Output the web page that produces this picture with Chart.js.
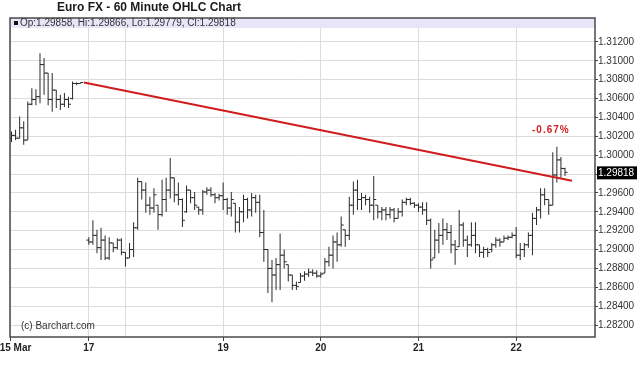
<!DOCTYPE html>
<html>
<head>
<meta charset="utf-8">
<title>Euro FX - 60 Minute OHLC Chart</title>
<script src="https://cdn.jsdelivr.net/npm/chart.js@4.4.1/dist/chart.umd.min.js"></script>
<style>
  html, body { margin: 0; padding: 0; background: #fff; }
</style>
</head>
<body>
<canvas id="ohlcChart" width="640" height="375"></canvas>
<script>
// hourly bars, one slot per hour (slot 18 = weekend gap, no trade)
const opens = [
  1.3018, 1.3021, 1.3018, 1.3029, 1.3016, 1.3054, 1.3059, 1.3062, 1.3096, 1.3087,
  1.3059, 1.3069, 1.3059, 1.3054, 1.3059, 1.3060, 1.3076, 1.3076, null, 1.2910,
  1.2908, 1.2915, 1.2902, 1.2910, 1.2891, 1.2907, 1.2902, 1.2910, 1.2897, 1.2891,
  1.2900, 1.2923, 1.2972, 1.2963, 1.2947, 1.2944, 1.2947, 1.2937, 1.2953, 1.2963,
  1.2976, 1.2958, 1.2953, 1.2940, 1.2963, 1.2955, 1.2945, 1.2942, 1.2961, 1.2963,
  1.2958, 1.2955, 1.2957, 1.2953, 1.2944, 1.2949, 1.2929, 1.2940, 1.2953, 1.2942,
  1.2955, 1.2950, 1.2918, 1.2900, 1.2880, 1.2873, 1.2884, 1.2894, 1.2884, 1.2873,
  1.2862, 1.2865, 1.2872, 1.2874, 1.2876, 1.2875, 1.2872, 1.2875, 1.2887, 1.2894,
  1.2908, 1.2905, 1.2921, 1.2915, 1.2947, 1.2963, 1.2953, 1.2955, 1.2953, 1.2947,
  1.2947, 1.2940, 1.2942, 1.2937, 1.2942, 1.2933, 1.2940, 1.2950, 1.2953, 1.2949,
  1.2947, 1.2945, 1.2942, 1.2931, 1.2891, 1.2910, 1.2915, 1.2921, 1.2918, 1.2905,
  1.2903, 1.2926, 1.2910, 1.2905, 1.2915, 1.2905, 1.2897, 1.2900, 1.2900, 1.2905,
  1.2910, 1.2908, 1.2912, 1.2913, 1.2915, 1.2894, 1.2900, 1.2905, 1.2915, 1.2933,
  1.2942, 1.2958, 1.2953, 1.2947, 1.2979, 1.2995, 1.29858
];
const highs = [
  1.3025, 1.3027, 1.3041, 1.3036, 1.3057, 1.3071, 1.3070, 1.3108, 1.3103, 1.3087,
  1.3087, 1.3069, 1.3064, 1.3066, 1.3062, 1.3078, 1.3077, 1.3077, null, 1.2913,
  1.2931, 1.2921, 1.2923, 1.2915, 1.2913, 1.2907, 1.2912, 1.2912, 1.2897, 1.2907,
  1.2929, 1.2976, 1.2972, 1.2971, 1.2956, 1.2965, 1.2947, 1.2974, 1.2976, 1.2997,
  1.2976, 1.2971, 1.2954, 1.2968, 1.2963, 1.2961, 1.2945, 1.2963, 1.2966, 1.2966,
  1.2960, 1.2959, 1.2971, 1.2955, 1.2961, 1.2949, 1.2945, 1.2958, 1.2955, 1.2960,
  1.2958, 1.2958, 1.2942, 1.2900, 1.2889, 1.2891, 1.2917, 1.2900, 1.2884, 1.2873,
  1.2866, 1.2875, 1.2877, 1.2880, 1.2879, 1.2878, 1.2876, 1.2891, 1.2903, 1.2915,
  1.2918, 1.2935, 1.2921, 1.2956, 1.2972, 1.2974, 1.2960, 1.2958, 1.2956, 1.2978,
  1.2947, 1.2945, 1.2945, 1.2945, 1.2944, 1.2944, 1.2953, 1.2955, 1.2955, 1.2950,
  1.2949, 1.2950, 1.2950, 1.2933, 1.2921, 1.2928, 1.2933, 1.2928, 1.2926, 1.2910,
  1.2942, 1.2929, 1.2915, 1.2929, 1.2929, 1.2905, 1.2903, 1.2902, 1.2907, 1.2913,
  1.2912, 1.2915, 1.2915, 1.2918, 1.2924, 1.2907, 1.2907, 1.2918, 1.2939, 1.2945,
  1.2965, 1.2965, 1.2953, 1.3003, 1.3009, 1.2998, 1.29866
];
const lows = [
  1.3014, 1.3016, 1.3018, 1.3011, 1.3016, 1.3053, 1.3053, 1.3055, 1.3064, 1.3053,
  1.3046, 1.3050, 1.3048, 1.3051, 1.3050, 1.3059, 1.3074, 1.3076, null, 1.2905,
  1.2905, 1.2896, 1.2889, 1.2889, 1.2889, 1.2897, 1.2900, 1.2894, 1.2882, 1.2891,
  1.2892, 1.2921, 1.2953, 1.2939, 1.2937, 1.2939, 1.2921, 1.2935, 1.2940, 1.2954,
  1.2950, 1.2947, 1.2924, 1.2939, 1.2949, 1.2942, 1.2937, 1.2937, 1.2958, 1.2956,
  1.2949, 1.2952, 1.2942, 1.2937, 1.2935, 1.2918, 1.2918, 1.2929, 1.2933, 1.2935,
  1.2939, 1.2913, 1.2887, 1.2854, 1.2844, 1.2857, 1.2857, 1.2880, 1.2866, 1.2857,
  1.2857, 1.2865, 1.2867, 1.2871, 1.2872, 1.2870, 1.2870, 1.2875, 1.2882, 1.2880,
  1.2887, 1.2903, 1.2903, 1.2910, 1.2937, 1.2942, 1.2942, 1.2947, 1.2939, 1.2931,
  1.2933, 1.2931, 1.2931, 1.2933, 1.2929, 1.2933, 1.2935, 1.2947, 1.2947, 1.2944,
  1.2940, 1.2937, 1.2926, 1.2880, 1.2891, 1.2896, 1.2905, 1.2910, 1.2896, 1.2884,
  1.2903, 1.2903, 1.2892, 1.2903, 1.2896, 1.2892, 1.2891, 1.2892, 1.2897, 1.2902,
  1.2903, 1.2908, 1.2910, 1.2912, 1.2891, 1.2889, 1.2892, 1.2902, 1.2894, 1.2926,
  1.2933, 1.2947, 1.2937, 1.2947, 1.2971, 1.2976, 1.29779
];
const closes = [
  1.3021, 1.3018, 1.3029, 1.3016, 1.3054, 1.3059, 1.3062, 1.3096, 1.3087, 1.3059,
  1.3069, 1.3059, 1.3054, 1.3059, 1.3054, 1.3076, 1.3076, 1.3077, null, 1.2908,
  1.2915, 1.2902, 1.2910, 1.2891, 1.2907, 1.2902, 1.2910, 1.2897, 1.2891, 1.2900,
  1.2923, 1.2972, 1.2963, 1.2947, 1.2944, 1.2958, 1.2937, 1.2953, 1.2963, 1.2976,
  1.2958, 1.2953, 1.2931, 1.2963, 1.2955, 1.2947, 1.2942, 1.2961, 1.2963, 1.2958,
  1.2955, 1.2957, 1.2953, 1.2944, 1.2953, 1.2929, 1.2940, 1.2953, 1.2942, 1.2955,
  1.2950, 1.2918, 1.2900, 1.2880, 1.2873, 1.2884, 1.2894, 1.2887, 1.2873, 1.2862,
  1.2861, 1.2872, 1.2874, 1.2876, 1.2875, 1.2872, 1.2874, 1.2887, 1.2894, 1.2908,
  1.2905, 1.2926, 1.2915, 1.2947, 1.2963, 1.2953, 1.2955, 1.2953, 1.2947, 1.2953,
  1.2940, 1.2942, 1.2937, 1.2942, 1.2933, 1.2940, 1.2950, 1.2953, 1.2949, 1.2947,
  1.2945, 1.2942, 1.2931, 1.2889, 1.2910, 1.2915, 1.2921, 1.2918, 1.2905, 1.2900,
  1.2926, 1.2910, 1.2905, 1.2915, 1.2905, 1.2897, 1.2900, 1.2897, 1.2905, 1.2910,
  1.2908, 1.2912, 1.2913, 1.2915, 1.2894, 1.2900, 1.2905, 1.2915, 1.2933, 1.2942,
  1.2958, 1.2953, 1.2947, 1.2979, 1.2995, 1.2986, 1.29818
];

// day separators (slot positions) and their labels
const dayTicks = [-0.37, 19, 28, 52, 76, 100, 124];
const dayLabels = ['    15 Mar', '17', '', '19', '20', '21', '22'];
const priceTicks = [1.282, 1.284, 1.286, 1.288, 1.290, 1.292, 1.294, 1.296,
                    1.298, 1.300, 1.302, 1.304, 1.306, 1.308, 1.310, 1.312];

// trend line from friday close to the last bar
const trendX = [17.8, 137.7];
const trendY = [1.3077, 1.2973];

const lastPrice = 1.29818;
const titleText = 'Euro FX - 60 Minute OHLC Chart';
const readoutText = 'Op:1.29858, Hi:1.29866, Lo:1.29779, Cl:1.29818';
const creditText = '(c) Barchart.com';
const changeText = '-0.67%';

const barColor = '#2a2a2a';
const tickOffset = 0.3;
const font = '"Liberation Sans", Arial, sans-serif';

// high-low bars + open/close ticks
const rangeData = [], openData = [], closeData = [];
highs.forEach((h, i) => {
    if (h === null) return;
    rangeData.push({ x: i, y: [lows[i], h] });
    openData.push({ x: i - tickOffset, y: opens[i] });
    closeData.push({ x: i + tickOffset, y: closes[i] });
});

const decorPlugin = {
    id: 'decor',
    beforeDraw(chart) {
        const c = chart.ctx;
        c.save();
        c.fillStyle = '#fff';
        c.fillRect(0, 0, chart.width, chart.height);
        c.restore();
    },
    afterDraw(chart) {
        const c = chart.ctx;
        const a = chart.chartArea;
        const y = chart.scales.y;
        c.save();

        // quote strip on top of the plot
        c.fillStyle = '#e6e6f8';
        c.fillRect(a.left, a.top, a.right - a.left, 10);

        // frame
        c.strokeStyle = '#4a4a4a';
        c.lineWidth = 1.5;
        c.strokeRect(a.left, a.top, a.right - a.left, a.bottom - a.top);

        c.textBaseline = 'middle';
        c.textAlign = 'left';

        // title
        c.fillStyle = '#1a1a1a';
        c.font = 'bold 12px ' + font;
        c.fillText(titleText, 57, 8);

        // OHLC readout
        c.fillStyle = '#111';
        c.fillRect(14, 21, 4, 4);
        c.fillStyle = '#333';
        c.font = '10px ' + font;
        c.fillText(readoutText, 20, 23.5);

        // credit
        c.fillText(creditText, 21, 326);

        // change label
        c.fillStyle = '#d22020';
        c.font = 'bold 10px ' + font;
        c.letterSpacing = '1px';
        c.fillText(changeText, 532, 130);
        c.letterSpacing = '0px';

        // last price marker on the axis
        const py = y.getPixelForValue(lastPrice);
        c.fillStyle = '#000';
        c.fillRect(a.right + 2, py - 6, 40, 13);
        c.fillStyle = '#fff';
        c.font = '10px ' + font;
        c.fillText(lastPrice.toFixed(5), a.right + 3, py + 0.5);

        c.restore();
    }
};

new Chart(document.getElementById('ohlcChart').getContext('2d'), {
    type: 'bar',
    data: {
        datasets: [
            {
                type: 'line',
                data: trendX.map((x, i) => ({ x: x, y: trendY[i] })),
                borderColor: '#d01c1c',
                borderWidth: 2,
                pointRadius: 0,
                order: 0
            },
            {
                type: 'scatter',
                data: openData,
                pointStyle: 'line',
                pointRadius: 1.3,
                pointBorderColor: barColor,
                borderColor: barColor,
                pointBorderWidth: 1,
                order: 1
            },
            {
                type: 'scatter',
                data: closeData,
                pointStyle: 'line',
                pointRadius: 1.3,
                pointBorderColor: barColor,
                borderColor: barColor,
                pointBorderWidth: 1,
                order: 1
            },
            {
                type: 'bar',
                data: rangeData,
                backgroundColor: barColor,
                barThickness: 1,
                inflateAmount: 0,
                grouped: false,
                order: 2
            }
        ]
    },
    options: {
        responsive: false,
        animation: false,
        events: [],
        layout: {
            padding: { top: 18, left: 10, right: 0, bottom: 0 },
            autoPadding: false
        },
        plugins: {
            legend: { display: false },
            tooltip: { enabled: false }
        },
        scales: {
            x: {
                type: 'linear',
                offset: false,
                min: -0.37,
                max: 143.37,
                afterBuildTicks: s => { s.ticks = dayTicks.map(v => ({ value: v })); },
                afterFit: s => {
                    s.height = 38;
                    // let "15 Mar" hang off the left edge like the original
                    s.paddingLeft = 0;
                    s.paddingRight = 0;
                },
                ticks: {
                    autoSkip: false,
                    maxRotation: 0,
                    padding: 1,
                    color: '#222',
                    font: { family: font, size: 10, weight: 'bold' },
                    callback: (v, i) => dayLabels[i]
                },
                grid: {
                    offset: false,
                    color: '#dcdcdc',
                    tickLength: 4,
                    tickColor: ctx => dayLabels[ctx.index] ? '#444' : 'rgba(0,0,0,0)'
                },
                border: { display: false }
            },
            y: {
                position: 'right',
                min: 1.28073,
                max: 1.31454,
                afterBuildTicks: s => { s.ticks = priceTicks.map(v => ({ value: v })); },
                afterFit: s => { s.width = 45; },
                ticks: {
                    padding: 0,
                    color: '#333',
                    font: { family: font, size: 10 },
                    callback: v => v.toFixed(5)
                },
                grid: {
                    color: '#dcdcdc',
                    tickLength: 3,
                    tickColor: '#444'
                },
                border: { display: false }
            }
        }
    },
    plugins: [decorPlugin]
});
</script>
</body>
</html>
